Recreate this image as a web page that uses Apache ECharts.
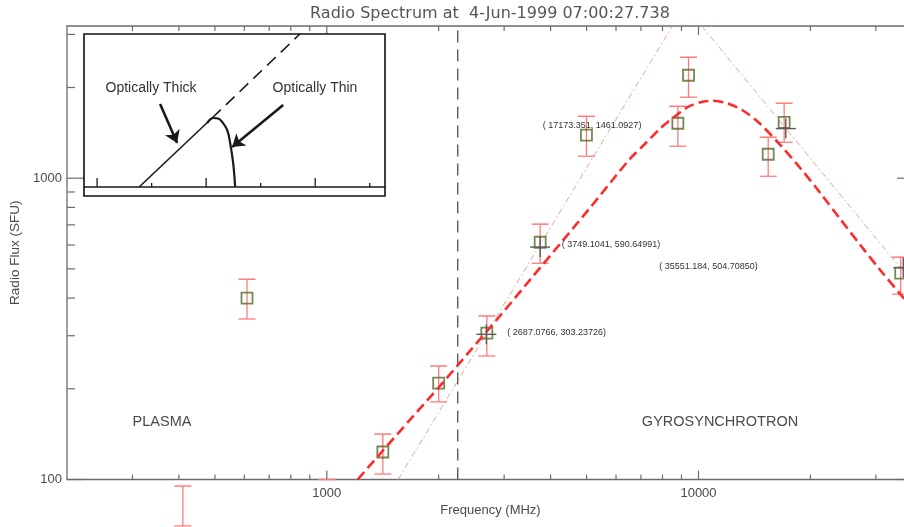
<!DOCTYPE html>
<html>
<head>
<meta charset="utf-8">
<script src="https://cdn.jsdelivr.net/npm/echarts@6/dist/echarts.min.js"></script>
<style>
  html, body { margin: 0; padding: 0; background: #ffffff; }
  #chart { width: 904px; height: 527px; }
</style>
</head>
<body>
<div id="chart"></div>
<script>
// ---- Observed spectrum: frequency (MHz) and flux density (SFU) with error limits ----
const obsFreq     = [410, 610, 1000, 1415, 2000, 2695, 3750, 4995, 8800, 9400, 15400, 17000, 35000];
const obsFlux     = [82, 400, null, 123.4, 209, 306, 613, 1389, 1522, 2196, 1201, 1533, 484];
const obsFluxHigh = [95.1, 462, 100, 141.5, 238, 349, 704, 1605, 1733, 2520, 1368, 1773, 547];
const obsFluxLow  = [70.1, 341, null, 104.3, 181, 257, 522, 1183, 1277, 1857, 1015, 1316, 412];

// ---- Gyrosynchrotron fit curve ----
const fitFreq = [1211, 1405, 1682, 2025, 2439, 2936, 3535, 4257, 5124, 5982, 6565, 7203, 7903, 8515, 9342,
                 10125, 10905, 11967, 13131, 14498, 16613, 18800, 21280, 24080, 27255, 30850, 35800, 38000];
const fitFlux = [100, 123.4, 158.8, 205.8, 268.9, 351.3, 462.4, 608.6, 801.4, 1015, 1165, 1306, 1465, 1581, 1720,
                 1787, 1807, 1773, 1681, 1534, 1287, 1079, 892, 731, 600, 495, 397, 362];

// ---- Optically thick / thin power-law asymptotes ----
const thickAsymFreq = [1555, 8510];
const thickAsymFlux = [100, 3200];
const thinAsymFreq  = [10200, 38000];
const thinAsymFlux  = [3200, 444];

// ---- Plasma / gyrosynchrotron boundary ----
const boundaryFreq = 2250;

// ---- Cursor readouts ----
const cursorFreqText = ['2687.0766', '3749.1041', '17173.351', '35551.184'];
const cursorFluxText = ['303.23726', '590.64991', '1461.0927', '504.70850'];

// ---- Axis ticks and labels ----
const xMajorTicks = [1000, 10000];
const xMinorTicks = [300, 400, 500, 600, 700, 800, 900, 2000, 3000, 4000, 5000, 6000, 7000, 8000, 9000, 20000, 30000];
const yMajorTicks = [100, 1000];
const yMinorTicks = [200, 300, 400, 500, 600, 700, 800, 900, 2000, 3000];
const xTickLabels = [1000, 10000];
const yTickLabels = [100, 1000];

// ---- Inset schematic (arbitrary units) ----
const insetTicks     = [0, 1, 2, 3, 4, 5];
const insetThickX    = [0.771, 2.11];
const insetThickY    = [0, 45.1];
const insetDashX     = [2.11, 3.72];
const insetDashY     = [45.1, 100];
const insetHumpX     = [2.018, 2.128, 2.22, 2.294, 2.385, 2.44, 2.495, 2.532];
const insetHumpY     = [41.8, 45.1, 44.8, 42.5, 37.3, 28.8, 15.7, 0];
const insetArrowFrom = [[1.156, 54.2], [3.413, 53.6]];
const insetArrowTo   = [[1.468, 28.8], [2.477, 26.1]];

// ---- Layout / style ----
const F_MIN = 200, F_MAX = 38000, S_MIN = 100, S_MAX = 3200;
const AXIS = '#6c6c6c', TEXT = '#4a4a4a', ERR = '#ff7b7b', SQUARE = '#52692c';
const FIT = '#ff2b2b', ASYM = '#e9a48e', DIVIDER = '#5a5a5a', CROSS = '#5a5a5a';
const cursorLabelOffsets = [[21, -2], [21.5, -3], [-243, -3], [-244, -1.5]];
const TICK = { xMajor: 9, xMinor: 5, yMajor: 17, yMinor: 8 };
const PLOT_FONT = '"Liberation Sans", Arial, sans-serif';

const pairs = (xs, ys) => xs.map((x, i) => [x, ys[i]]);
const matches = (list, v) => list.find(t => Math.abs(t - v) / t < 1e-6);

const chart = echarts.init(document.getElementById('chart'));

const line = (x1, y1, x2, y2, stroke, w) => ({
  type: 'line', shape: { x1, y1, x2, y2 }, style: { stroke, lineWidth: w }
});

const option = {
  animation: false,
  backgroundColor: '#ffffff',
  grid: [
    // main frame runs slightly past the right edge of the canvas
    { left: 67, top: 26, width: 847, height: 453.5, outerBoundsMode: 'none', containLabel: false,
      show: true, borderColor: AXIS, borderWidth: 1.3, backgroundColor: 'transparent' },
    { left: 84, top: 34, width: 301, height: 153, outerBoundsMode: 'none', containLabel: false }
  ],
  xAxis: [
    { type: 'log', gridIndex: 0, min: F_MIN, max: F_MAX, logBase: 10,
      axisLine: { show: false }, axisTick: { show: false }, splitLine: { show: false },
      axisLabel: { margin: 7, color: TEXT, fontFamily: PLOT_FONT, fontSize: 13,
        formatter: v => { const t = matches(xTickLabels, v); return t ? String(t) : ''; } },
      name: 'Frequency (MHz)', nameLocation: 'middle', nameGap: 24,
      nameTextStyle: { color: TEXT, fontFamily: PLOT_FONT, fontSize: 13 } },
    { type: 'value', gridIndex: 1, min: -0.24, max: 5.28, z: 20,
      axisLine: { show: true, onZero: false, lineStyle: { color: '#1a1a1a', width: 1.6 } },
      axisTick: { show: false }, axisLabel: { show: false }, splitLine: { show: false } }
  ],
  yAxis: [
    { type: 'log', gridIndex: 0, min: S_MIN, max: S_MAX, logBase: 10,
      axisLine: { show: false }, axisTick: { show: false }, splitLine: { show: false },
      axisLabel: { margin: 5, color: TEXT, fontFamily: PLOT_FONT, fontSize: 13,
        formatter: v => { const t = matches(yTickLabels, v); return t ? String(t) : ''; } },
      name: 'Radio Flux (SFU)', nameLocation: 'middle', nameGap: 43, nameRotate: 90,
      nameTextStyle: { color: TEXT, fontFamily: PLOT_FONT, fontSize: 13.5 } },
    { type: 'value', gridIndex: 1, min: 0, max: 100, show: false }
  ],
  graphic: [
    { type: 'text', x: 490, y: 14, z: 5,
      style: { text: 'Radio Spectrum at  4-Jun-1999 07:00:27.738', font: '16px "DejaVu Sans"',
               fill: '#555555', align: 'center', verticalAlign: 'middle' } },
    { type: 'text', x: 162, y: 422, z: 5,
      style: { text: 'PLASMA', font: '14.5px ' + PLOT_FONT, fill: TEXT, align: 'center', verticalAlign: 'middle' } },
    { type: 'text', x: 720, y: 422, z: 5,
      style: { text: 'GYROSYNCHROTRON', font: '14.5px ' + PLOT_FONT, fill: TEXT, align: 'center', verticalAlign: 'middle' } },
    { type: 'rect', z: 10, shape: { x: 84, y: 34, width: 301, height: 162 },
      style: { fill: '#ffffff', stroke: '#111111', lineWidth: 1.6 } },
    { type: 'text', x: 151, y: 88, z: 30,
      style: { text: 'Optically Thick', font: '14px "Liberation Sans", Arial, sans-serif', fill: '#333333',
               align: 'center', verticalAlign: 'middle' } },
    { type: 'text', x: 315, y: 88, z: 30,
      style: { text: 'Optically Thin', font: '14px "Liberation Sans", Arial, sans-serif', fill: '#333333',
               align: 'center', verticalAlign: 'middle' } }
  ],
  series: [
    // axis ticks along the bottom and top frame
    { type: 'custom', xAxisIndex: 0, yAxisIndex: 0, silent: true, clip: false, z: 1,
      data: xMajorTicks.map(v => [v, S_MIN, 1]).concat(xMinorTicks.map(v => [v, S_MIN, 0])),
      renderItem: (params, api) => {
        const f = api.value(0), len = api.value(2) ? TICK.xMajor : TICK.xMinor;
        const b = api.coord([f, S_MIN]), t = api.coord([f, S_MAX]);
        return { type: 'group', children: [
          line(b[0], b[1], b[0], b[1] - len, AXIS, 1.2),
          line(t[0], t[1], t[0], t[1] + len, AXIS, 1.2)
        ] };
      } },
    // axis ticks along the left and right frame
    { type: 'custom', xAxisIndex: 0, yAxisIndex: 0, silent: true, clip: false, z: 1,
      data: yMajorTicks.map(v => [F_MIN, v, 1]).concat(yMinorTicks.map(v => [F_MIN, v, 0])),
      renderItem: (params, api) => {
        const s = api.value(1), len = api.value(2) ? TICK.yMajor : TICK.yMinor;
        const l = api.coord([F_MIN, s]), r = api.coord([F_MAX, s]);
        return { type: 'group', children: [
          line(l[0], l[1], l[0] + len, l[1], AXIS, 1.2),
          line(r[0], r[1], r[0] - len, r[1], AXIS, 1.2)
        ] };
      } },
    // plasma / gyrosynchrotron boundary
    { type: 'line', xAxisIndex: 0, yAxisIndex: 0, silent: true, symbol: 'none', z: 2,
      data: [[boundaryFreq, S_MIN], [boundaryFreq, S_MAX]],
      lineStyle: { color: DIVIDER, width: 1.4, type: [12, 7] } },
    // power-law asymptotes
    { type: 'line', xAxisIndex: 0, yAxisIndex: 0, silent: true, symbol: 'none', z: 2,
      data: pairs(thickAsymFreq, thickAsymFlux),
      lineStyle: { color: ASYM, width: 1, type: [6, 3, 1.5, 3] } },
    { type: 'line', xAxisIndex: 0, yAxisIndex: 0, silent: true, symbol: 'none', z: 2,
      data: pairs(thinAsymFreq, thinAsymFlux),
      lineStyle: { color: ASYM, width: 1, type: [6, 3, 1.5, 3] } },
    // error bars (not clipped to the frame)
    { type: 'custom', xAxisIndex: 0, yAxisIndex: 0, silent: true, clip: false, z: 3,
      data: obsFreq.map((f, i) => [f, obsFluxHigh[i]]),
      renderItem: (params, api) => {
        const i = params.dataIndex, f = obsFreq[i];
        const top = api.coord([f, obsFluxHigh[i]]);
        const half = 8.5;
        const children = [line(top[0] - half, top[1], top[0] + half, top[1], ERR, 1.5)];
        if (obsFluxLow[i] != null) {
          const bot = api.coord([f, obsFluxLow[i]]);
          children.push(line(top[0], top[1], bot[0], bot[1], ERR, 1.3));
          children.push(line(bot[0] - half, bot[1], bot[0] + half, bot[1], ERR, 1.3));
        }
        return { type: 'group', children };
      } },
    // observed points
    { type: 'scatter', xAxisIndex: 0, yAxisIndex: 0, silent: true, clip: true, z: 4,
      symbol: 'rect', symbolSize: 11,
      data: obsFreq.map((f, i) => [f, obsFlux[i]]).filter(d => d[1] != null),
      itemStyle: { color: 'rgba(0,0,0,0)', borderColor: SQUARE, borderWidth: 1.8 } },
    // fitted spectrum
    { type: 'line', xAxisIndex: 0, yAxisIndex: 0, silent: true, symbol: 'none', smooth: 0.3, z: 5,
      data: pairs(fitFreq, fitFlux),
      lineStyle: { color: FIT, width: 2.6, type: [10, 5] } },
    // cursor readouts
    { type: 'custom', xAxisIndex: 0, yAxisIndex: 0, silent: true, clip: false, z: 6,
      data: cursorFreqText.map((f, i) => [Number(f), Number(cursorFluxText[i])]),
      renderItem: (params, api) => {
        const i = params.dataIndex;
        const p = api.coord([api.value(0), api.value(1)]);
        const off = cursorLabelOffsets[i];
        return { type: 'group', children: [
          line(p[0] - 10, p[1], p[0] + 10, p[1], CROSS, 1.4),
          line(p[0], p[1] - 10, p[0], p[1] + 10, CROSS, 1.4),
          { type: 'text', x: p[0] + off[0], y: p[1] + off[1],
            style: { text: '( ' + cursorFreqText[i] + ', ' + cursorFluxText[i] + ')',
                     font: '9px ' + PLOT_FONT, fill: '#333333', align: 'left', verticalAlign: 'middle' } }
        ] };
      } },
    // ---- inset schematic ----
    { type: 'custom', xAxisIndex: 1, yAxisIndex: 1, silent: true, clip: false, z: 20,
      data: insetTicks.map(v => [v, 0]),
      renderItem: (params, api) => {
        const v = api.value(0), p = api.coord([v, 0]);
        const len = (v % 2 === 0) ? 9 : 4;
        return line(p[0], p[1], p[0], p[1] - len, '#1a1a1a', 1.3);
      } },
    { type: 'line', xAxisIndex: 1, yAxisIndex: 1, silent: true, symbol: 'none', z: 20,
      data: pairs(insetThickX, insetThickY), lineStyle: { color: '#1a1a1a', width: 1.6 } },
    { type: 'line', xAxisIndex: 1, yAxisIndex: 1, silent: true, symbol: 'none', z: 20,
      data: pairs(insetDashX, insetDashY), lineStyle: { color: '#1a1a1a', width: 1.6, type: [12, 7] } },
    { type: 'line', xAxisIndex: 1, yAxisIndex: 1, silent: true, symbol: 'none', smooth: 0.4, z: 20,
      data: pairs(insetHumpX, insetHumpY), lineStyle: { color: '#1a1a1a', width: 2.2 } },
    { type: 'lines', coordinateSystem: 'cartesian2d', xAxisIndex: 1, yAxisIndex: 1, silent: true, z: 21,
      symbol: ['none', 'arrow'], symbolSize: 12,
      data: insetArrowFrom.map((a, i) => ({ coords: [a, insetArrowTo[i]] })),
      lineStyle: { color: '#1a1a1a', width: 2.6, opacity: 1 } }
  ]
};

chart.setOption(option);
</script>
</body>
</html>
